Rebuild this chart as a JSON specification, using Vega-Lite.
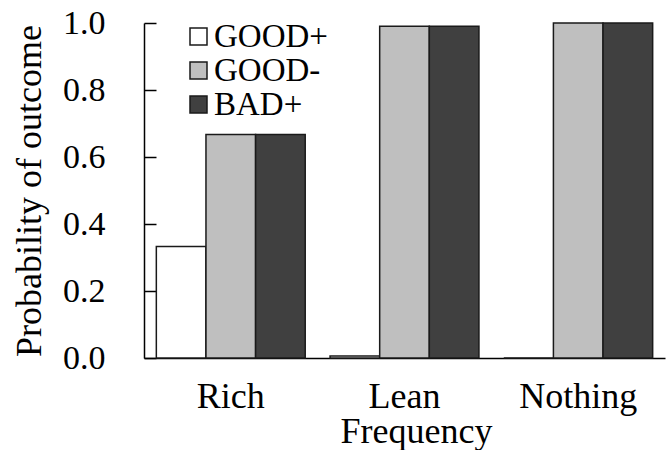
{
  "$schema": "https://vega.github.io/schema/vega-lite/v6.json",
  "autosize": {"type": "none"},
  "padding": {"left": 144, "top": 23, "right": 3, "bottom": 92},
  "width": 521,
  "height": 335,
  "background": "white",
  "config": {
    "font": "Liberation Serif, Times New Roman, serif",
    "view": {"stroke": null},
    "axis": {"labelFont": "Liberation Serif, Times New Roman, serif", "titleFont": "Liberation Serif, Times New Roman, serif"},
    "legend": {"labelFont": "Liberation Serif, Times New Roman, serif"}
  },
  "data": {
    "values": [
      {"frequency": "Rich", "outcome": "GOOD+", "probability": 0.333},
      {"frequency": "Rich", "outcome": "GOOD-", "probability": 0.667},
      {"frequency": "Rich", "outcome": "BAD+", "probability": 0.667},
      {"frequency": "Lean", "outcome": "GOOD+", "probability": 0.006},
      {"frequency": "Lean", "outcome": "GOOD-", "probability": 0.99},
      {"frequency": "Lean", "outcome": "BAD+", "probability": 0.99},
      {"frequency": "Nothing", "outcome": "GOOD+", "probability": 0.0},
      {"frequency": "Nothing", "outcome": "GOOD-", "probability": 1.0},
      {"frequency": "Nothing", "outcome": "BAD+", "probability": 1.0}
    ]
  },
  "mark": {"type": "bar", "stroke": "#1a1a1a", "strokeWidth": 1.5},
  "encoding": {
    "x": {
      "field": "frequency",
      "type": "nominal",
      "sort": ["Rich", "Lean", "Nothing"],
      "scale": {"paddingInner": 0.143, "paddingOuter": 0.071},
      "axis": {
        "title": "Frequency",
        "titleFontSize": 36,
        "titleFontWeight": "normal",
        "titleColor": "black",
        "titlePadding": 0,
        "titleX": 272,
        "titleAlign": "center",
        "labelAngle": 0,
        "labelFontSize": 36,
        "labelColor": "black",
        "labelPadding": 21,
        "ticks": false,
        "domainColor": "black",
        "domainWidth": 1.5
      }
    },
    "xOffset": {
      "field": "outcome",
      "type": "nominal",
      "sort": ["GOOD+", "GOOD-", "BAD+"],
      "scale": {"paddingInner": 0, "paddingOuter": 0}
    },
    "y": {
      "field": "probability",
      "type": "quantitative",
      "scale": {"domain": [0, 1], "nice": false},
      "axis": {
        "title": "Probability of outcome",
        "titleFontSize": 36,
        "titleFontWeight": "normal",
        "titleColor": "black",
        "titlePadding": 14,
        "values": [0, 0.2, 0.4, 0.6, 0.8, 1.0],
        "format": ".1f",
        "grid": false,
        "labelFontSize": 34,
        "labelColor": "black",
        "labelPadding": 51,
        "tickSize": -12,
        "tickColor": "black",
        "tickWidth": 1.5,
        "domainColor": "black",
        "domainWidth": 1.5
      }
    },
    "fill": {
      "field": "outcome",
      "type": "nominal",
      "sort": ["GOOD+", "GOOD-", "BAD+"],
      "scale": {"domain": ["GOOD+", "GOOD-", "BAD+"], "range": ["#ffffff", "#bfbfbf", "#404040"]},
      "legend": {
        "title": null,
        "orient": "none",
        "legendX": 38,
        "legendY": -3,
        "symbolType": "square",
        "symbolSize": 289,
        "symbolStrokeColor": "#1a1a1a",
        "symbolStrokeWidth": 1.5,
        "symbolOpacity": 1,
        "labelFontSize": 33,
        "labelColor": "black",
        "labelOffset": -1,
        "rowPadding": 0
      }
    }
  }
}
